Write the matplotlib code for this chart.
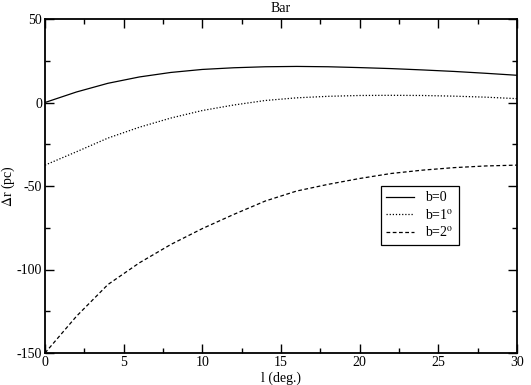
import matplotlib
matplotlib.use("Agg")
import matplotlib.pyplot as plt
from matplotlib.ticker import MultipleLocator

plt.rcParams['font.family'] = ['Liberation Serif', 'DejaVu Serif']
plt.rcParams['mathtext.fontset'] = 'stix'
plt.rcParams['axes.unicode_minus'] = False

# longitude (deg) and offsets (pc)
l_deg = [0, 2, 4, 6, 8, 10, 12, 14, 16, 18, 20, 22, 24, 26, 28, 30]
dr_b0 = [0, 6.3, 11.5, 15.3, 18.0, 19.8, 20.8, 21.4, 21.6, 21.4, 20.9, 20.3, 19.5, 18.6, 17.5, 16.3]
dr_b1 = [-37.5, -29.5, -21.3, -14.8, -9.3, -4.8, -1.5, 1.2, 2.8, 3.7, 4.2, 4.3, 4.2, 3.8, 3.2, 2.3]
dr_b2 = [-150, -128, -109, -96, -85, -75.5, -67, -59, -53, -49, -45.5, -42.5, -40.5, -39, -38, -37.5]
labels = ["b=0", r"b=1$^\mathrm{o}$", r"b=2$^\mathrm{o}$"]

fig = plt.figure(figsize=(5.31, 3.85), dpi=100)
ax = fig.add_axes([45 / 531, 1 - 353 / 385, 472 / 531, 334 / 385])

ax.plot(l_deg, dr_b0, color="black", lw=0.9, ls="-", label=labels[0])
ax.plot(l_deg, dr_b1, color="black", lw=0.9, ls=(0, (1, 1.5)), label=labels[1])
ax.plot(l_deg, dr_b2, color="black", lw=0.9, ls=(0, (3, 2)), label=labels[2])

ax.set_xlim(0, 30)
ax.set_ylim(-150, 50)
ax.xaxis.set_major_locator(MultipleLocator(5))
ax.xaxis.set_minor_locator(MultipleLocator(2.5))
ax.yaxis.set_major_locator(MultipleLocator(50))
ax.yaxis.set_minor_locator(MultipleLocator(25))
ax.tick_params(which="both", direction="in", top=True, right=True, labelsize=10, width=1)
ax.tick_params(which="major", length=6.5, pad=2)
ax.tick_params(which="minor", length=3.5)
for s in ax.spines.values():
    s.set_linewidth(1.3)

ax.set_title("Bar", fontsize=10, pad=5)
ax.set_xlabel("l (deg.)", fontsize=10, labelpad=2)
ax.set_ylabel(r"$\Delta$r (pc)", fontsize=10)
ax.yaxis.set_label_coords(-0.059, 0.5)

leg = ax.legend(loc="upper left", bbox_to_anchor=(0.697, 0.521), fontsize=10,
                frameon=True, fancybox=False, edgecolor="black", framealpha=1,
                handlelength=2.0, handletextpad=0.8, borderpad=0.4, labelspacing=0.25)
leg.get_frame().set_linewidth(0.9)

fig.savefig("out.png", dpi=100)
